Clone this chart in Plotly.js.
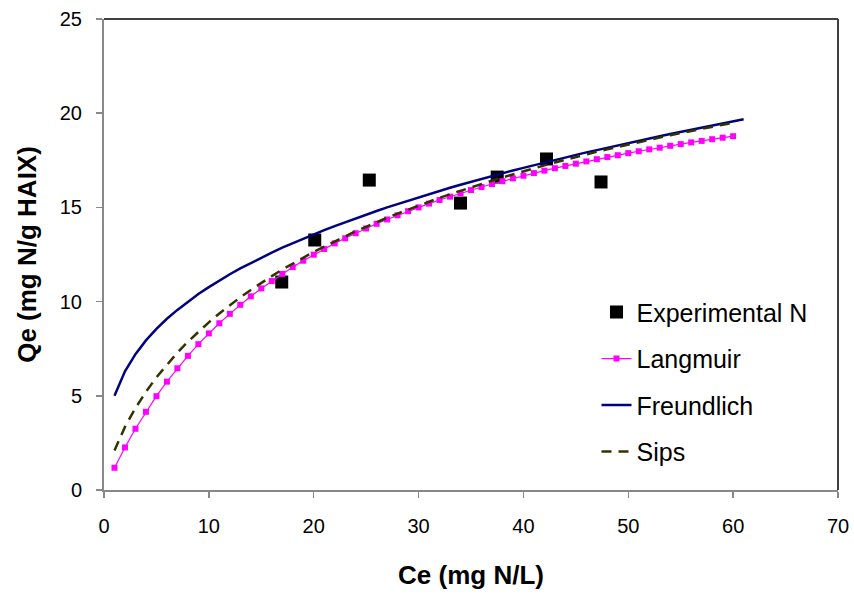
<!DOCTYPE html>
<html>
<head>
<meta charset="utf-8">
<script src="https://cdn.plot.ly/plotly-3.0.1.min.js"></script>
<style>html,body{margin:0;padding:0;background:#fff;}#chart{width:854px;height:595px;}</style>
</head>
<body>
<div id="chart"></div>
<script>
// Experimental data
const expCe = [16.95, 20.1, 25.3, 34.0, 37.5, 42.2, 47.4];
const expQe = [11.04, 13.27, 16.45, 15.23, 16.61, 17.57, 16.35];

// Langmuir model curve (read at Ce = 1..60)
const langCe = [1,2,3,4,5,6,7,8,9,10,11,12,13,14,15,16,17,18,19,20,21,22,23,24,25,26,27,28,29,30,
  31,32,33,34,35,36,37,38,39,40,41,42,43,44,45,46,47,48,49,50,51,52,53,54,55,56,57,58,59,60];
const langQe = [1.18,2.26,3.25,4.15,4.98,5.75,6.46,7.12,7.74,8.31,8.85,9.35,9.83,10.28,10.70,11.09,11.47,11.83,12.17,12.49,
  12.79,13.09,13.36,13.63,13.88,14.13,14.36,14.58,14.80,15.00,15.20,15.39,15.57,15.75,15.92,16.08,16.24,16.39,16.54,16.68,
  16.82,16.95,17.08,17.20,17.32,17.44,17.56,17.67,17.77,17.88,17.98,18.08,18.17,18.27,18.36,18.45,18.53,18.62,18.70,18.78];

// Freundlich model curve (Ce = 1..61)
const freuCe = [1,2,3,4,5,6,7,8,9,10,11,12,13,14,15,16,17,18,19,20,21,22,23,24,25,26,27,28,29,30,
  31,32,33,34,35,36,37,38,39,40,41,42,43,44,45,46,47,48,49,50,51,52,53,54,55,56,57,58,59,60,61];
const freuQe = [5.00,6.30,7.21,7.94,8.55,9.09,9.56,10.00,10.40,10.77,11.12,11.45,11.76,12.05,12.33,12.60,12.86,13.10,13.34,13.57,
  13.79,14.01,14.22,14.42,14.62,14.81,15.00,15.18,15.36,15.54,15.71,15.87,16.04,16.20,16.36,16.51,16.66,16.81,16.96,17.10,
  17.24,17.38,17.52,17.65,17.78,17.92,18.04,18.17,18.30,18.42,18.54,18.66,18.78,18.90,19.01,19.13,19.24,19.35,19.46,19.57,19.68];

// Sips model curve (Ce = 1..60)
const sipsCe = [1,2,3,4,5,6,7,8,9,10,11,12,13,14,15,16,17,18,19,20,21,22,23,24,25,26,27,28,29,30,
  31,32,33,34,35,36,37,38,39,40,41,42,43,44,45,46,47,48,49,50,51,52,53,54,55,56,57,58,59,60];
const sipsQe = [2.10,3.35,4.35,5.21,5.98,6.66,7.29,7.87,8.40,8.90,9.37,9.81,10.23,10.62,11.00,11.35,11.70,12.02,12.34,12.64,
  12.92,13.20,13.47,13.73,13.97,14.22,14.45,14.67,14.89,15.10,15.31,15.51,15.70,15.89,16.07,16.25,16.42,16.59,16.76,16.92,
  17.08,17.23,17.38,17.53,17.67,17.81,17.95,18.08,18.21,18.34,18.46,18.59,18.71,18.83,18.94,19.06,19.17,19.28,19.39,19.49];

const traces = [
  {x: expCe, y: expQe, name: 'Experimental N', mode: 'markers', type: 'scatter', legendgroup: 'a',
   marker: {symbol: 'square', size: 13, color: '#000000'}},
  {x: langCe, y: langQe, name: 'Langmuir', mode: 'lines+markers', type: 'scatter', legendgroup: 'b',
   line: {color: '#FF00FF', width: 1.2}, marker: {symbol: 'square', size: 6, color: '#FF00FF'}},
  {x: freuCe, y: freuQe, name: 'Freundlich', mode: 'lines', type: 'scatter', legendgroup: 'c',
   line: {color: '#000080', width: 2.5}},
  {x: sipsCe, y: sipsQe, name: 'Sips', mode: 'lines', type: 'scatter', legendgroup: 'd',
   line: {color: '#333300', width: 2.5, dash: '10px,7px'}}
];

const layout = {
  width: 854, height: 595,
  margin: {l: 104, r: 16, t: 19, b: 105},
  paper_bgcolor: '#ffffff', plot_bgcolor: '#ffffff',
  font: {family: 'Liberation Sans, Arial, sans-serif', color: '#000000'},
  showlegend: true,
  legend: {x: 0.671, y: 0.426, xanchor: 'left', yanchor: 'top', bgcolor: 'rgba(0,0,0,0)',
    font: {size: 25, color: '#000000'}, tracegroupgap: 11, traceorder: 'grouped'},
  xaxis: {range: [0, 70], dtick: 10, tick0: 0, showgrid: false, zeroline: false,
    showline: true, linecolor: '#888888', linewidth: 2, ticks: 'outside', ticklen: 6, tickcolor: '#888888', tickwidth: 1.5,
    tickfont: {size: 20}, ticklabelstandoff: 11,
    title: {text: '<b>Ce (mg N/L)</b>', font: {size: 26}, standoff: 30}},
  yaxis: {range: [0, 25], dtick: 5, tick0: 0, showgrid: false, zeroline: false,
    showline: true, linecolor: '#888888', linewidth: 2, ticks: 'outside', ticklen: 6, tickcolor: '#888888', tickwidth: 1.5,
    tickfont: {size: 20}, ticklabelstandoff: 10,
    title: {text: '<b>Qe (mg N/g HAIX)</b>', font: {size: 26}, standoff: 16}},
  shapes: [
    {type: 'line', xref: 'paper', yref: 'paper', x0: 0, x1: 1, y0: 1, y1: 1, line: {color: '#404040', width: 2}},
    {type: 'line', xref: 'paper', yref: 'paper', x0: 1, x1: 1, y0: 0, y1: 1, line: {color: '#404040', width: 2}}
  ]
};

Plotly.newPlot('chart', traces, layout, {displayModeBar: false, staticPlot: true});
</script>
</body>
</html>
